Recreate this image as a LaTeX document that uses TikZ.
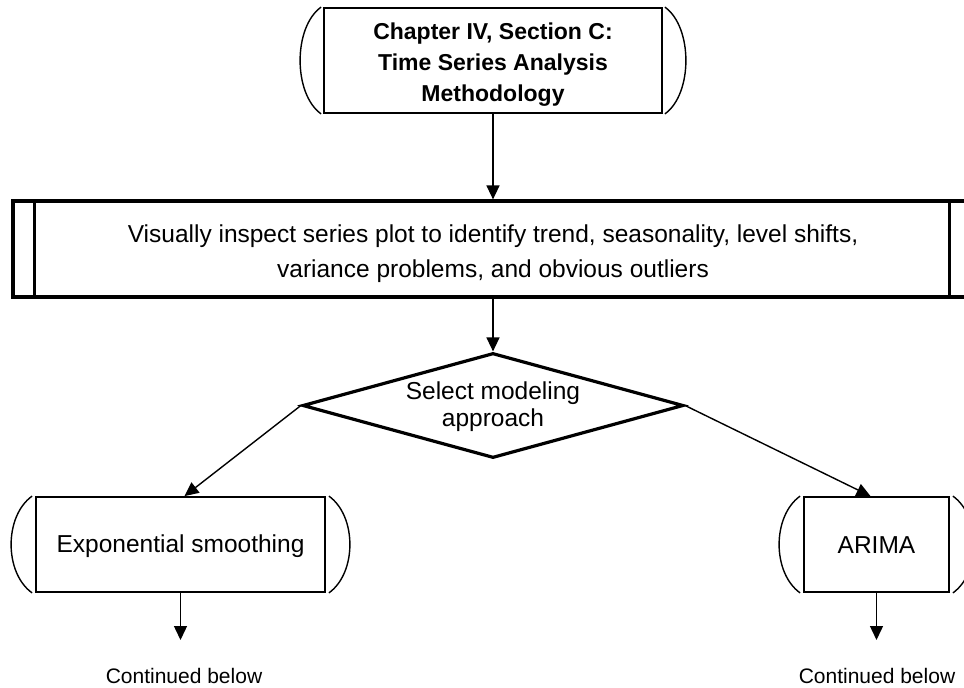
\documentclass[tikz,border=0pt]{standalone}
\usepackage{fontspec}
\setmainfont{Liberation Sans}
\usetikzlibrary{shapes.geometric,arrows.meta}
\begin{document}
\begin{tikzpicture}[x=1pt,y=-1pt,
  termbox/.style={draw, line width=1.8pt, inner sep=0pt, align=center, font=\fontsize{24.5}{27}\selectfont},
  thickbox/.style={draw, line width=3.2pt, inner sep=0pt, align=center},
  conn/.style={line width=1.4pt, -{Triangle[length=14pt,width=13pt]}},
  sidecurve/.style={line width=1.4pt},
  plain/.style={inner sep=0pt, align=center}
]
\clip (0,0) rectangle (964,688);
\fill[white] (0,0) rectangle (964,688);

% top terminator
\node[termbox, minimum width=338pt, minimum height=105pt] (top) at (493,60.5) {};
\node[plain, font=\bfseries\fontsize{23}{31}\selectfont] (toptext) at ([yshift=-4pt]top.center)
  {Chapter IV, Section C:\\Time Series Analysis\\Methodology};
\draw[sidecurve] ([xshift=-2pt]top.north west) .. controls +(-28,20) and +(-28,-20) .. ([xshift=-2pt]top.south west);
\draw[sidecurve] ([xshift=2pt]top.north east) .. controls +(28,20) and +(28,-20) .. ([xshift=2pt]top.south east);

% big process box
\node[thickbox, minimum width=960pt, minimum height=96pt] (inspect) at (493,249) {};
\node[plain, font=\fontsize{24.5}{35}\selectfont] (itext) at ([yshift=-5pt]inspect.center)
  {Visually inspect series plot to identify trend, seasonality, level shifts,\\variance problems, and obvious outliers};
\draw[line width=3.2pt] ([xshift=23pt]inspect.north west) -- ([xshift=23pt]inspect.south west);
\draw[line width=3.2pt] ([xshift=-25pt]inspect.north east) -- ([xshift=-25pt]inspect.south east);

% decision
\node[draw, diamond, line width=3.2pt, aspect=3.63, minimum width=381pt,
      minimum height=105pt, inner sep=0pt] (dia) at (493,405.5) {};
\node[plain, font=\fontsize{24.5}{27}\selectfont] (dtext) at ([yshift=-1pt]dia.center) {Select modeling\\approach};

% lower terminators
\node[termbox, minimum width=289pt, minimum height=95pt] (exp) at (180.5,544.5) {};
\node[plain, font=\fontsize{24.5}{27}\selectfont] (exptext) at ([yshift=-2pt]exp.center) {Exponential smoothing};
\draw[sidecurve] ([xshift=-3pt]exp.north west) .. controls +(-28,20) and +(-28,-20) .. ([xshift=-3pt]exp.south west);
\draw[sidecurve] ([xshift=3pt]exp.north east) .. controls +(28,20) and +(28,-20) .. ([xshift=3pt]exp.south east);

\node[termbox, minimum width=145pt, minimum height=95pt] (arima) at (876.5,544.5) {};
\node[plain, font=\fontsize{24.5}{27}\selectfont] (atext) at ([yshift=-1pt]arima.center) {ARIMA};
\draw[sidecurve] ([xshift=-3pt]arima.north west) .. controls +(-28,20) and +(-28,-20) .. ([xshift=-3pt]arima.south west);
\draw[sidecurve] ([xshift=3pt]arima.north east) .. controls +(28,20) and +(28,-20) .. ([xshift=3pt]arima.south east);

% continuation labels
\coordinate (c1) at (181,640);
\coordinate (c2) at (877,640);
\node[plain, font=\fontsize{21}{24}\selectfont] (cont1) at (184,676) {Continued below};
\node[plain, font=\fontsize{21}{24}\selectfont] (cont2) at (877,676) {Continued below};

% connectors
\draw[conn] (top.south) -- (top.south |- inspect.north);
\draw[conn] (inspect.south -| dia.north) -- (dia.north);
\draw[conn] (dia.west) -- ([xshift=4pt]exp.north);
\draw[conn] (dia.east) -- ([xshift=-6pt]arima.north);
\draw[conn] (exp.south) -- (exp.south |- c1);
\draw[conn] (arima.south) -- (arima.south |- c2);
\end{tikzpicture}
\end{document}
